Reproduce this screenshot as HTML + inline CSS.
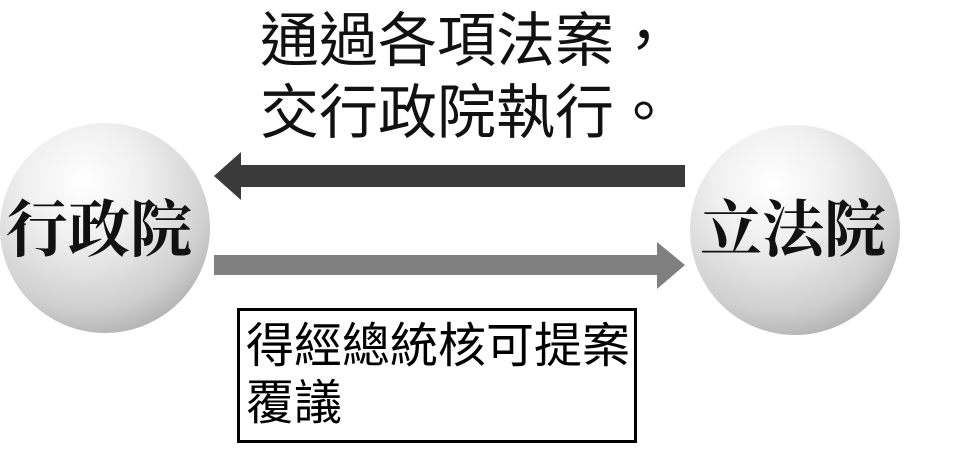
<!DOCTYPE html>
<html><head><meta charset="utf-8"><style>
body{margin:0;width:968px;height:451px;background:#fff;position:relative;overflow:hidden;font-family:"Liberation Sans","Noto Sans CJK TC",sans-serif}
.t{position:absolute;white-space:nowrap;line-height:1}
.sph{position:absolute;width:210px;height:210px;border-radius:50%;
background:radial-gradient(circle at 40% 28%,#fff 0%,#f0f0f0 30%,#cfcfcf 65%,#a0a0a0 90%,#c8c8c8 100%);}
.lab{position:absolute;font-family:"Liberation Serif","Noto Serif CJK SC",serif;font-weight:bold;font-size:62px;color:#111;white-space:nowrap;line-height:1}
</style></head><body>
<div class="t" style="left:260px;top:12px;font-size:59px;color:#111">通過各項法案，</div>
<div class="t" style="left:260px;top:84px;font-size:59px;color:#111">交行政院執行。</div>
<div class="sph" style="left:0;top:123px"></div>
<div class="sph" style="left:690px;top:125px"></div>
<div class="lab" style="left:6px;top:200px">行政院</div>
<div class="lab" style="left:700px;top:200px">立法院</div>
<svg width="968" height="451" style="position:absolute;left:0;top:0">
<polygon points="214,176 241,152 241,165 685,165 685,187 241,187 241,200" fill="#3a3a3a"/>
<polygon points="214,255 657,255 657,242 685,265 657,289 657,275 214,275" fill="#808080"/>
<rect x="238.5" y="309.5" width="397" height="132" fill="#fff" stroke="#000" stroke-width="3"/>
</svg>
<div class="t" style="left:246px;top:323px;font-size:48px;color:#000">得經總統核可提案</div>
<div class="t" style="left:246px;top:380px;font-size:48px;color:#000">覆議</div>
</body></html>
